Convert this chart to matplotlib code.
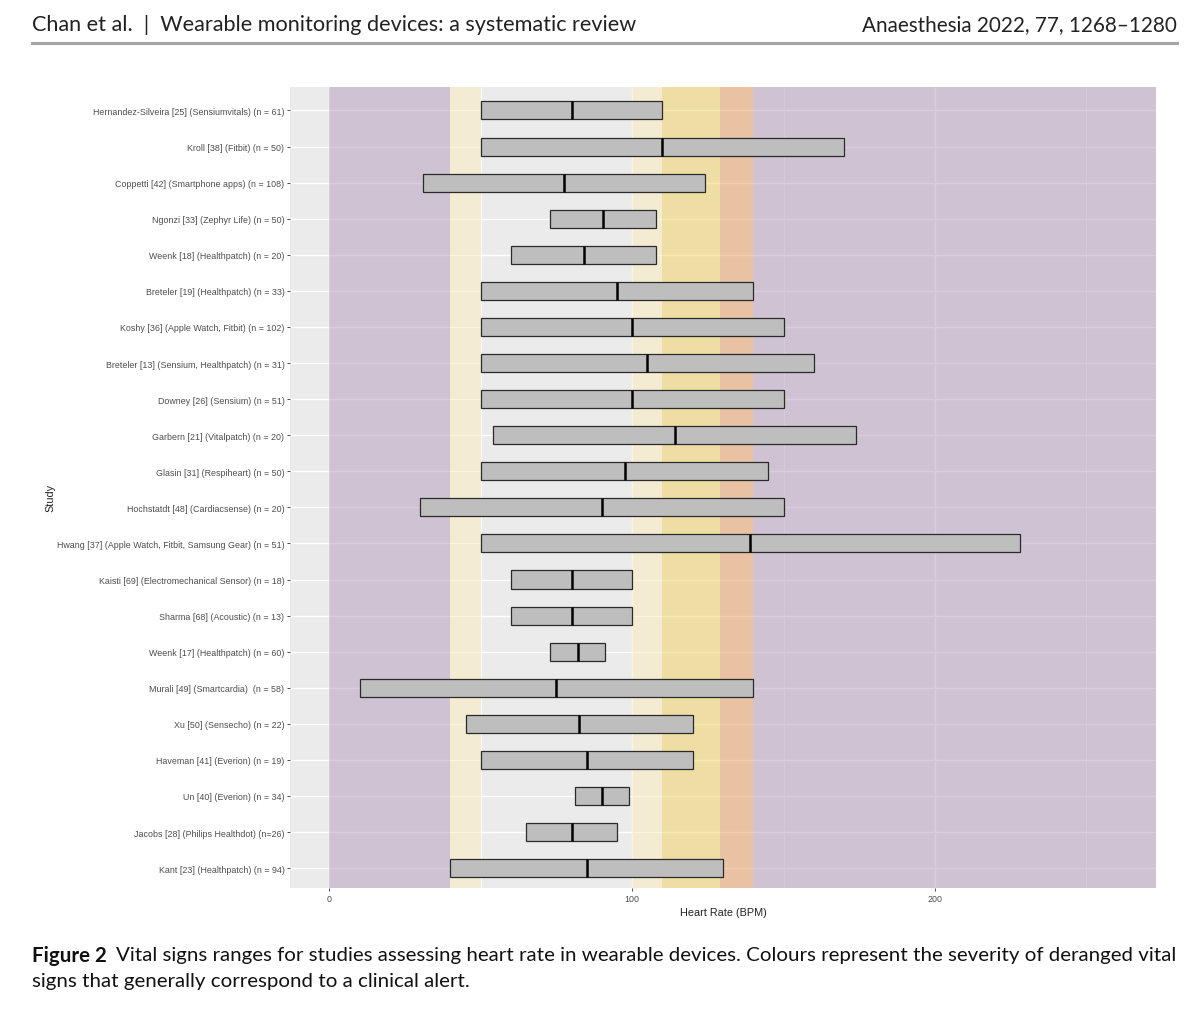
import matplotlib
matplotlib.use("Agg")
import matplotlib.pyplot as plt
from matplotlib.ticker import MultipleLocator

# studies listed top to bottom as in the figure
studies = [
    "Hernandez-Silveira [25] (Sensiumvitals) (n = 61)",
    "Kroll [38] (Fitbit) (n = 50)",
    "Coppetti [42] (Smartphone apps) (n = 108)",
    "Ngonzi [33] (Zephyr Life) (n = 50)",
    "Weenk [18] (Healthpatch) (n = 20)",
    "Breteler [19] (Healthpatch) (n = 33)",
    "Koshy [36] (Apple Watch, Fitbit) (n = 102)",
    "Breteler [13] (Sensium, Healthpatch) (n = 31)",
    "Downey [26] (Sensium) (n = 51)",
    "Garbern [21] (Vitalpatch) (n = 20)",
    "Glasin [31] (Respiheart) (n = 50)",
    "Hochstatdt [48] (Cardiacsense) (n = 20)",
    "Hwang [37] (Apple Watch, Fitbit, Samsung Gear) (n = 51)",
    "Kaisti [69] (Electromechanical Sensor) (n = 18)",
    "Sharma [68] (Acoustic) (n = 13)",
    "Weenk [17] (Healthpatch) (n = 60)",
    "Murali [49] (Smartcardia)  (n = 58)",
    "Xu [50] (Sensecho) (n = 22)",
    "Haveman [41] (Everion) (n = 19)",
    "Un [40] (Everion) (n = 34)",
    "Jacobs [28] (Philips Healthdot) (n=26)",
    "Kant [23] (Healthpatch) (n = 94)",
]
hr_min = [50, 50, 31, 73, 60, 50, 50, 50, 50, 54, 50, 30, 50, 60, 60, 73, 10, 45, 50, 81, 65, 40]
hr_median = [80, 110, 77.5, 90.5, 84, 95, 100, 105, 100, 114, 97.5, 90, 139, 80, 80, 82, 75, 82.5, 85, 90, 80, 85]
hr_max = [110, 170, 124, 108, 108, 140, 150, 160, 150, 174, 145, 150, 228, 100, 100, 91, 140, 120, 120, 99, 95, 130]

# alert bands (BPM) and their colours
band_lo = [0, 40, 100, 110, 129, 140]
band_hi = [40, 50, 110, 129, 140, 273]
band_colors = ["#b59dbd", "#fbedbb", "#fbedbb", "#f1d35f", "#e79b5b", "#b59dbd"]

fig = plt.figure(figsize=(12, 10.12), dpi=100)
W, H = 1200, 1012

ax = fig.add_axes([290 / W, 1 - 889 / H, 866 / W, 801 / H])
ax.set_facecolor("#ebebeb")
for s in ax.spines.values():
    s.set_visible(False)

for lo, hi, c in zip(band_lo, band_hi, band_colors):
    ax.axvspan(lo, hi, color=c, alpha=0.5, lw=0, zorder=1)

ypos = list(range(len(studies)))
widths = [hi - lo for lo, hi in zip(hr_min, hr_max)]
ax.barh(ypos, widths, left=hr_min, height=0.5, color="#bebebe",
        edgecolor="#2a2a2a", linewidth=0.9, zorder=3)
ax.vlines(hr_median, [y - 0.25 for y in ypos], [y + 0.25 for y in ypos],
          color="black", linewidth=1.8, zorder=4)

ax.set_xlim(-13, 273)
ax.set_ylim(len(studies) - 0.45, -0.65)
ax.xaxis.set_major_locator(MultipleLocator(100))
ax.xaxis.set_minor_locator(MultipleLocator(50))
ax.set_yticks(ypos)
ax.set_yticklabels(studies)

ax.set_axisbelow(True)
ax.grid(which="major", color="white", linewidth=1.0)
ax.grid(which="minor", axis="x", color="white", linewidth=0.5)
ax.tick_params(which="major", length=2.5, width=0.6, color="#333333",
               labelsize=6.4, labelcolor="#4d4d4d", pad=1.5)
ax.tick_params(which="minor", length=0)
for lab in ax.get_xticklabels() + ax.get_yticklabels():
    lab.set_family("Liberation Sans")

ax.set_xlabel("Heart Rate (BPM)", fontsize=7.8, family="Liberation Sans",
              color="#222222", labelpad=3)
ax.set_ylabel("Study", fontsize=7.8, family="Liberation Sans",
              color="#222222", labelpad=4)
ax.yaxis.set_label_coords(55 / W - 290 / W, 0.5, transform=fig.transFigure)
ax.yaxis.label.set_position((55 / W, 1 - 498 / H))

# page header and caption
renderer = fig.canvas.get_renderer()


def fit(t, width_px):
    w = t.get_window_extent(renderer).width
    t.set_fontsize(t.get_fontsize() * width_px / w)


hdr_l = fig.text(32 / W, 1 - 25 / H, "Chan et al.  |  Wearable monitoring devices: a systematic review",
                 family="Lato", fontsize=14, color="#222222", va="center")
hdr_r = fig.text(1177 / W, 1 - 25 / H, "Anaesthesia 2022, 77, 1268\u20131280",
                 family="Lato", fontsize=14, color="#222222", va="center", ha="right")
fit(hdr_l, 606)
fit(hdr_r, 315)
fig.add_artist(plt.Line2D([32 / W, 1177 / W], [1 - 44 / H, 1 - 44 / H],
                          color="#a5a5a5", linewidth=2.2, transform=fig.transFigure))

cap_b = fig.text(32 / W, 1 - 956 / H, "Figure 2", family="Lato", fontweight="bold",
                 fontsize=14, color="#111111", va="center")
cap_1 = fig.text(116 / W, 1 - 956 / H,
                 "Vital signs ranges for studies assessing heart rate in wearable devices. "
                 "Colours represent the severity of deranged vital",
                 family="Lato", fontsize=14, color="#111111", va="center")
fit(cap_b, 75)
fit(cap_1, 1061)
fig.text(32 / W, 1 - 982 / H, "signs that generally correspond to a clinical alert.",
         family="Lato", fontsize=cap_1.get_fontsize(), color="#111111", va="center")

fig.savefig("out.png", dpi=100, facecolor="white")
